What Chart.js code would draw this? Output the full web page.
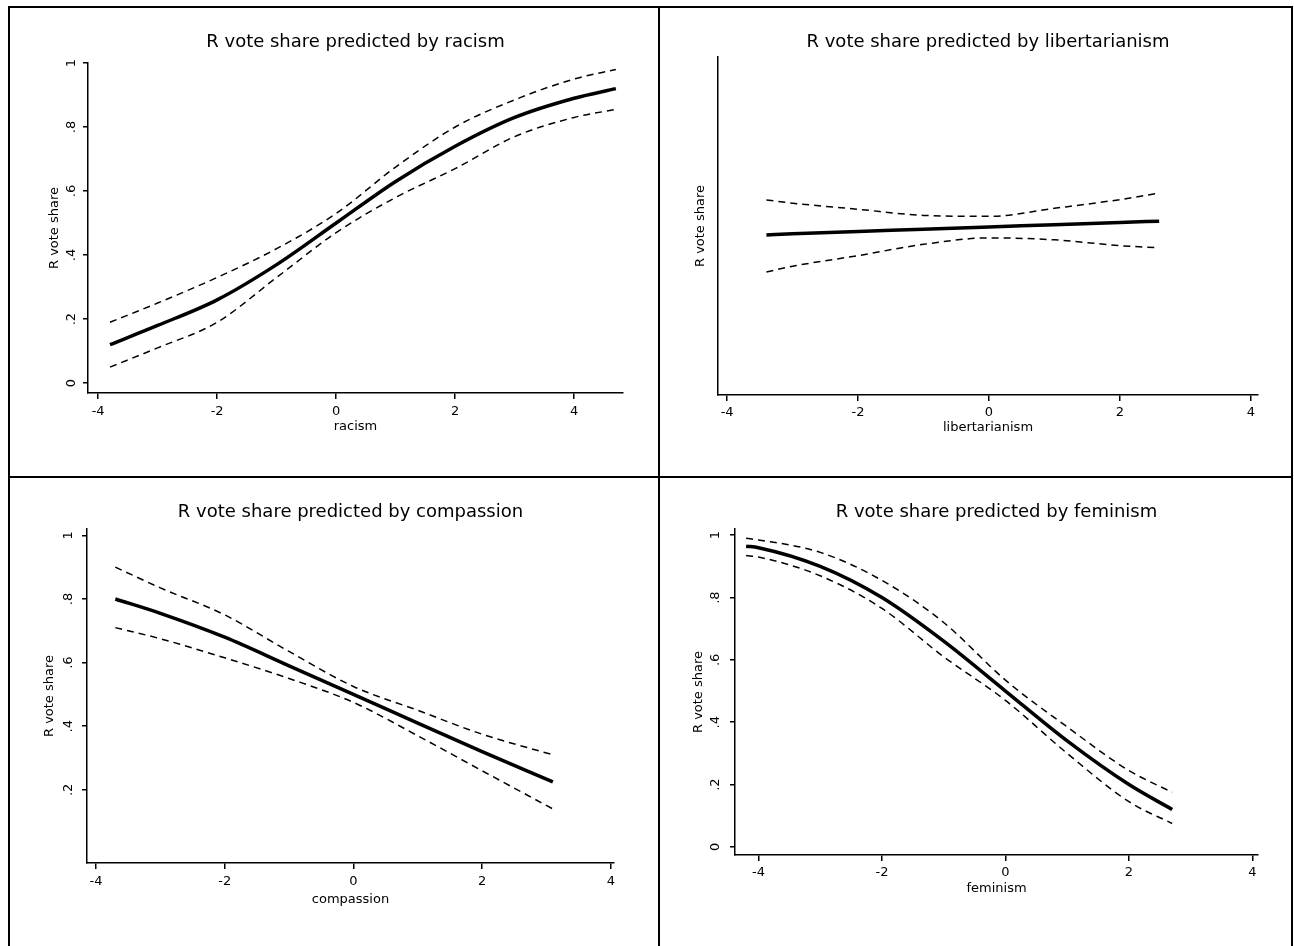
<!DOCTYPE html>
<html>
<head>
<meta charset="utf-8">
<title>R vote share predicted by attitudes</title>
<script src="https://cdn.jsdelivr.net/npm/chart.js@4.4.1/dist/chart.umd.min.js"></script>
<style>
  html, body { margin: 0; padding: 0; background: #fff; }
  body { width: 1294px; height: 946px; position: relative; overflow: hidden; }
  .rule { position: absolute; background: #000; }
  .panel { position: absolute; }
</style>
</head>
<body>
<div class="rule" style="left:8px;top:6px;width:1285px;height:2px"></div>
<div class="rule" style="left:8px;top:476px;width:1285px;height:2px"></div>
<div class="rule" style="left:8px;top:6px;width:2px;height:940px"></div>
<div class="rule" style="left:658px;top:6px;width:2px;height:940px"></div>
<div class="rule" style="left:1291px;top:6px;width:2px;height:940px"></div>

<div class="panel" style="left:10px;top:8px;width:648px;height:468px"><canvas id="racismChart"></canvas></div>
<div class="panel" style="left:661px;top:8px;width:630px;height:468px"><canvas id="libertarianismChart"></canvas></div>
<div class="panel" style="left:10px;top:478px;width:648px;height:468px"><canvas id="compassionChart"></canvas></div>
<div class="panel" style="left:661px;top:478px;width:630px;height:468px"><canvas id="feminismChart"></canvas></div>

<script>
Chart.defaults.font.family = '"DejaVu Sans", sans-serif';
Chart.defaults.color = '#000';
Chart.defaults.animation = false;

// predicted R vote share with 95% bounds, read at each x
const racismX = [-3.8, -3, -2, -1, 0, 1, 2, 3, 4, 4.7];
const racismFit = [0.12, 0.18, 0.26, 0.37, 0.50, 0.63, 0.74, 0.83, 0.89, 0.92];
const racismUpper = [0.19, 0.25, 0.33, 0.42, 0.53, 0.675, 0.80, 0.885, 0.95, 0.98];
const racismLower = [0.05, 0.11, 0.19, 0.33, 0.47, 0.58, 0.67, 0.77, 0.83, 0.855];

const libertarianismX = [-3.4, -3, -2, -1, 0, 1, 2, 2.6];
const libertarianismFit = [0.467, 0.471, 0.478, 0.485, 0.492, 0.499, 0.506, 0.51];
const libertarianismUpper = [0.576, 0.566, 0.547, 0.528, 0.525, 0.55, 0.577, 0.597];
const libertarianismLower = [0.352, 0.37, 0.403, 0.438, 0.458, 0.452, 0.434, 0.427];

const compassionX = [-3.7, -3, -2, -1, 0, 1, 2, 3.1];
const compassionFit = [0.80, 0.755, 0.68, 0.59, 0.50, 0.41, 0.32, 0.225];
const compassionUpper = [0.90, 0.835, 0.75, 0.635, 0.525, 0.45, 0.375, 0.31];
const compassionLower = [0.71, 0.675, 0.615, 0.55, 0.475, 0.37, 0.26, 0.14];

const feminismX = [-4.2, -4, -3, -2, -1, 0, 1, 2, 2.7];
const feminismFit = [0.965, 0.96, 0.90, 0.80, 0.66, 0.50, 0.34, 0.20, 0.12];
const feminismUpper = [0.99, 0.985, 0.945, 0.855, 0.72, 0.535, 0.385, 0.245, 0.175];
const feminismLower = [0.935, 0.93, 0.87, 0.765, 0.61, 0.47, 0.30, 0.145, 0.075];

// axis ticks
const xTicks = [-4, -2, 0, 2, 4];
const yTicks = [0, 0.2, 0.4, 0.6, 0.8, 1];
const yTickLabels = ['0', '.2', '.4', '.6', '.8', '1'];
const compassionYTicks = [0.2, 0.4, 0.6, 0.8, 1];
const compassionYTickLabels = ['.2', '.4', '.6', '.8', '1'];

function toPoints(xs, ys) {
    return xs.map((x, i) => ({ x: x, y: ys[i] }));
}

// y tick labels stand on their side, reading upwards
const verticalTickLabels = {
    id: 'verticalTickLabels',
    afterDraw(chart, args, opts) {
        if (!opts.labels) return;
        const scale = chart.scales.y;
        const ctx = chart.ctx;
        ctx.save();
        ctx.font = '13px "DejaVu Sans", sans-serif';
        ctx.fillStyle = '#000';
        ctx.textAlign = 'center';
        ctx.textBaseline = 'middle';
        opts.ticks.forEach((v, i) => {
            const py = scale.getPixelForValue(v);
            ctx.save();
            ctx.translate(chart.chartArea.left - opts.offset, py);
            ctx.rotate(-Math.PI / 2);
            ctx.fillText(opts.labels[i], 0, 0);
            ctx.restore();
        });
        ctx.restore();
    }
};

function predictionChart(id, p) {
    const ci = { borderColor: '#000', borderWidth: 1.5, borderDash: [7, 5] };
    return new Chart(document.getElementById(id), {
        type: 'line',
        data: {
            datasets: [
                Object.assign({ data: toPoints(p.x, p.upper) }, ci),
                { data: toPoints(p.x, p.fit), borderColor: '#000', borderWidth: 3.5 },
                Object.assign({ data: toPoints(p.x, p.lower) }, ci)
            ]
        },
        options: {
            responsive: true,
            maintainAspectRatio: false,
            layout: { padding: { left: 0, top: 0, right: p.padRight, bottom: p.padBottom } },
            elements: {
                point: { radius: 0 },
                line: { cubicInterpolationMode: 'monotone', fill: false }
            },
            plugins: {
                legend: { display: false },
                tooltip: { enabled: false },
                title: {
                    display: true,
                    text: p.title,
                    fullSize: false,
                    color: '#000',
                    font: { size: 18, weight: 'normal' },
                    padding: { top: p.titleTop, bottom: p.titleBottom }
                },
                verticalTickLabels: { ticks: p.yTicks, labels: p.yLabels, offset: p.yLabelOffset }
            },
            scales: {
                x: {
                    type: 'linear',
                    min: p.xMin,
                    max: p.xMax,
                    afterBuildTicks: s => { s.ticks = xTicks.map(v => ({ value: v })); },
                    afterFit: s => { s.height = p.xHeight; },
                    grid: { drawOnChartArea: false, drawTicks: true, tickLength: 6, color: '#000', lineWidth: 1.5 },
                    border: { display: true, color: '#000', width: 1.5 },
                    ticks: { padding: p.xTickPad, font: { size: 13 }, color: '#000', maxRotation: 0, autoSkip: false },
                    title: { display: true, text: p.xLabel, color: '#000', font: { size: 13 }, padding: { top: 0, bottom: 0 } }
                },
                y: {
                    type: 'linear',
                    min: p.yMin,
                    max: p.yMax,
                    afterBuildTicks: s => { s.ticks = (p.yTicks || []).map(v => ({ value: v })); },
                    afterFit: s => { s.width = p.yWidth; },
                    grid: { drawOnChartArea: false, drawTicks: !!p.yTicks, tickLength: 5, color: '#000', lineWidth: 1.5 },
                    border: { display: true, color: '#000', width: 1.5 },
                    ticks: { display: false },
                    title: { display: true, text: 'R vote share', color: '#000', font: { size: 13 }, padding: { top: p.yTitlePad, bottom: 0 } }
                }
            }
        },
        plugins: [verticalTickLabels]
    });
}

predictionChart('racismChart', {
    title: 'R vote share predicted by racism', xLabel: 'racism',
    x: racismX, fit: racismFit, upper: racismUpper, lower: racismLower,
    xMin: -4.17, xMax: 4.82, yMin: -0.031, yMax: 1.0,
    yTicks: yTicks, yLabels: yTickLabels, yLabelOffset: 16,
    padRight: 35, padBottom: 41.2, xHeight: 41.8, yWidth: 78,
    titleTop: 23.2, titleBottom: 10.2, xTickPad: 5, yTitlePad: 37.2
});

predictionChart('libertarianismChart', {
    title: 'R vote share predicted by libertarianism', xLabel: 'libertarianism',
    x: libertarianismX, fit: libertarianismFit, upper: libertarianismUpper, lower: libertarianismLower,
    xMin: -4.14, xMax: 4.11, yMin: -0.03, yMax: 1.02,
    yTicks: null, yLabels: null, yLabelOffset: 0,
    padRight: 33, padBottom: 40.2, xHeight: 40.8, yWidth: 57,
    titleTop: 23.2, titleBottom: 4.2, xTickPad: 4, yTitlePad: 32.2
});

predictionChart('compassionChart', {
    title: 'R vote share predicted by compassion', xLabel: 'compassion',
    x: compassionX, fit: compassionFit, upper: compassionUpper, lower: compassionLower,
    xMin: -4.14, xMax: 4.05, yMin: -0.03, yMax: 1.02,
    yTicks: compassionYTicks, yLabels: compassionYTickLabels, yLabelOffset: 18,
    padRight: 44, padBottom: 38.2, xHeight: 44.8, yWidth: 77,
    titleTop: 23.2, titleBottom: 6.2, xTickPad: 5, yTitlePad: 32.2
});

predictionChart('feminismChart', {
    title: 'R vote share predicted by feminism', xLabel: 'feminism',
    x: feminismX, fit: feminismFit, upper: feminismUpper, lower: feminismLower,
    xMin: -4.38, xMax: 4.09, yMin: -0.026, yMax: 1.02,
    yTicks: yTicks, yLabels: yTickLabels, yLabelOffset: 19,
    padRight: 33, padBottom: 49.2, xHeight: 41.8, yWidth: 74,
    titleTop: 23.2, titleBottom: 6.2, xTickPad: 4, yTitlePad: 30.2
});
</script>
</body>
</html>
